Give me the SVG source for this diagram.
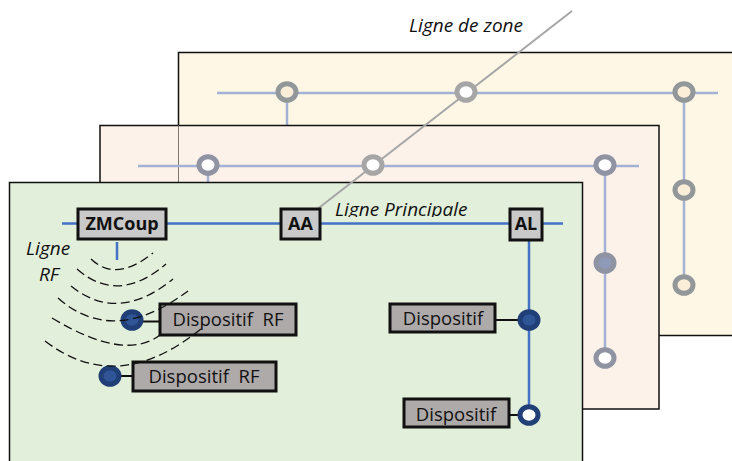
<svg xmlns="http://www.w3.org/2000/svg" width="732" height="461" viewBox="0 0 732 461">
<style>
text{font-family:"Open Sans","Noto Sans",sans-serif;fill:#111}
.lab{font-size:19px;font-style:italic}
.panel{stroke:#111;stroke-width:1.5}
.faint{stroke:#a3b2d4;stroke-width:2.5;fill:none}
.blue{stroke:#4472c4;stroke-width:2.5;fill:none}
.arc{stroke:#111;stroke-width:1.3;fill:none;stroke-dasharray:9 4.500}
.lk{stroke:#111;stroke-width:2;fill:none}
.ring{stroke-width:5}
.g1{stroke:#92979a}
.g2{stroke:#8f93a2}
.g3{stroke:#a6a6a6}
.bb{stroke:#203f77}
.key rect{fill:#c9c9c9;stroke:#111;stroke-width:3}
.key text{font-size:18px;font-weight:700;text-anchor:middle}
.dev rect{fill:#aeaaaa;stroke:#111;stroke-width:3}
.dev text{font-size:18.500px;text-anchor:middle}
</style>
<g id="zone-back">
<rect class="panel" x="178.500" y="52.500" width="560" height="283" fill="#fff7e5"/>
<path class="faint" d="M217 93H718M287 93V125M684 93V285"/>
<ellipse class="ring g1" cx="287" cy="92" rx="9" ry="8.300" fill="#fbeed8"/>
<ellipse class="ring g1" cx="684" cy="92" rx="9" ry="8.300" fill="#fbeed8"/>
<ellipse class="ring g1" cx="684" cy="190" rx="9" ry="8.300" fill="#fbeed8"/>
<ellipse class="ring g1" cx="684" cy="285" rx="9" ry="8.300" fill="#fbeed8"/>
</g>
<g id="zone-middle">
<rect class="panel" x="100" y="125.500" width="559" height="283.500" fill="#fdf2ea"/>
<path d="M178.500 125.500V183" stroke="#7d7770" stroke-width="1" fill="none"/>
<path class="faint" d="M138 166H639M208 166V183M605 166V358"/>
<ellipse class="ring g2" cx="208" cy="165" rx="9" ry="8.300" fill="#fff"/>
<ellipse class="ring g2" cx="605" cy="165" rx="9" ry="8.300" fill="#fff"/>
<ellipse class="ring g2" cx="605" cy="263" rx="9" ry="8.300" fill="#8d9ab8"/>
<ellipse class="ring g2" cx="605" cy="358" rx="9" ry="8.300" fill="#fff"/>
</g>
<g id="zone-front">
<rect class="panel" x="9.500" y="182.500" width="573" height="290" fill="#e2efda"/>
</g>
<g id="connectors">
<path d="M572 11L311 214" stroke="#a6a6a6" stroke-width="2" fill="none"/>
<path class="blue" d="M62 223.500H563M117 242V260M529 240V415"/>
<path class="lk" d="M143 321.500H160M121 376H133M495 320H520M509 415H520"/>
</g>
<g id="node-crossing">
<ellipse class="ring g3" cx="466" cy="92" rx="9" ry="8.300" fill="#fff"/>
<ellipse class="ring g3" cx="373" cy="165" rx="9" ry="8.300" fill="#fff"/>
</g>
<g id="label-principale">
<text class="lab" x="335" y="215.500">Ligne Principale</text>
<rect x="330" y="217" width="150" height="5" fill="#e2efda"/>
</g>
<text class="lab" x="409" y="32">Ligne de zone</text>
<text class="lab" x="26" y="255">Ligne</text>
<text class="lab" x="39" y="281">RF</text>
<g id="zmcoup" class="key"><rect x="78" y="209" width="88" height="30"/><text x="122" y="230">ZMCoup</text></g>
<g id="aa" class="key"><rect x="281" y="209" width="39" height="30"/><text x="300.500" y="230">AA</text></g>
<g id="al" class="key"><rect x="510" y="209" width="32" height="31"/><text x="526" y="230">AL</text></g>
<g id="dev-rf-1" class="dev"><rect x="160" y="304" width="136" height="31"/><text x="228" y="325.500" xml:space="preserve">Dispositif  RF</text></g>
<g id="dev-rf-2" class="dev"><rect x="133" y="362" width="143" height="29"/><text x="204" y="383" xml:space="preserve">Dispositif  RF</text></g>
<g id="dev-1" class="dev"><rect x="390" y="304" width="105" height="28"/><text x="443" y="325">Dispositif</text></g>
<g id="dev-2" class="dev"><rect x="404" y="399" width="105" height="28"/><text x="456" y="420.500">Dispositif</text></g>
<g id="nodes">
<ellipse class="ring bb" cx="132" cy="320" rx="9" ry="8.300" fill="#2f5597"/>
<ellipse class="ring bb" cx="110" cy="376" rx="9" ry="8.300" fill="#2f5597"/>
<ellipse class="ring bb" cx="529" cy="320" rx="9" ry="8.300" fill="#2f5597"/>
<ellipse class="ring bb" cx="529" cy="415" rx="9" ry="8.300" fill="#fff"/>
</g>
<g id="rf-waves">
<path class="arc" d="M91 259Q116 283 153 253"/>
<path class="arc" d="M77 269Q118 305 166 264"/>
<path class="arc" d="M71 286Q118 324 173 279"/>
<path class="arc" d="M58 298Q113 347 188 291"/>
<path class="arc" d="M52 318Q125 362 160 335"/>
<path class="arc" d="M45 341Q118 397 202 328"/>
</g>
</svg>
